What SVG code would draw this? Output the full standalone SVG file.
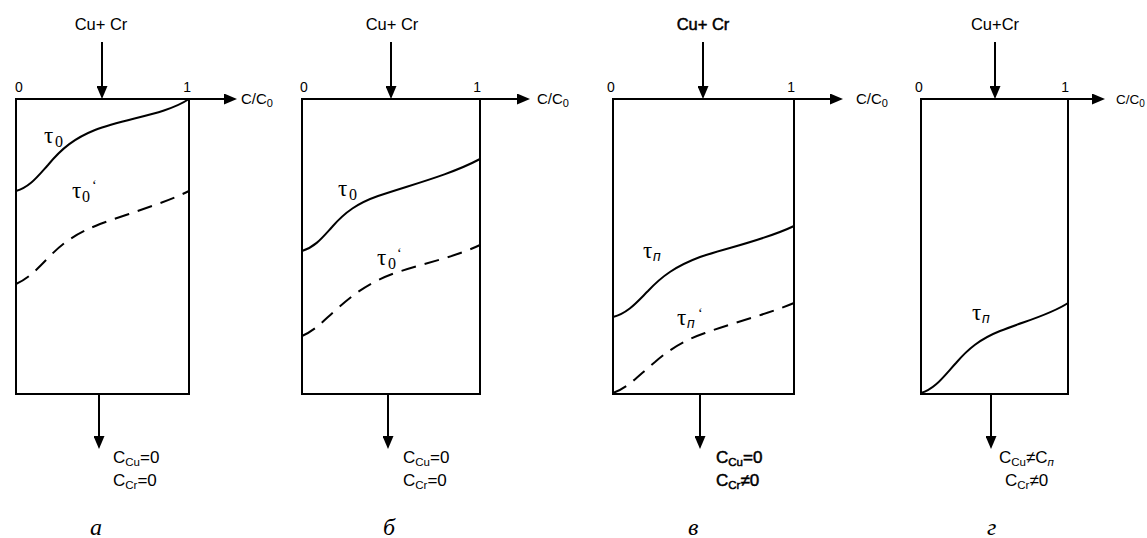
<svg xmlns="http://www.w3.org/2000/svg" width="1147" height="538" viewBox="0 0 1147 538">
<style>
.ln{stroke:#000;stroke-width:2;fill:none}
.ds{stroke:#000;stroke-width:2;fill:none;stroke-dasharray:15 9}
.ar{stroke:#000;stroke-width:2;fill:none;marker-end:url(#ah)}
.s{font-family:"Liberation Sans",Arial,sans-serif;fill:#000}
.t{font-family:"Liberation Serif","Times New Roman",serif;fill:#000}
.lab{font-family:"Liberation Serif","Times New Roman",serif;font-style:italic;font-size:24px;fill:#000}
.bd{stroke:#000;stroke-width:0.5}
</style>
<defs>
<marker id="ah" viewBox="0 0 13 11" refX="2" refY="5.5" markerWidth="13" markerHeight="11" markerUnits="userSpaceOnUse" orient="auto">
<path d="M0,0 L13,5.5 L0,11 z" fill="#000"/>
</marker>
</defs>

<g id="panel-a">
<rect x="16" y="99" width="173" height="295" class="ln"/>
<text x="101" y="30" class="s" font-size="16.5" text-anchor="middle">Cu+ Cr</text>
<text x="19" y="92" class="s" font-size="14" text-anchor="middle">0</text>
<text x="191" y="92" class="s" font-size="14" text-anchor="end">1</text>
<text x="241" y="104" class="s" font-size="15">C/C<tspan font-size="11" dy="3">0</tspan></text>
<path d="M16,191 C30,187 38,176 48,165 C62,148 75,138 95,130 C125,118 165,115 189,99" class="ln"/>
<path d="M16,284 C30,278 40,266 52,254 C66,240 80,232 100,224 C130,213 165,203 189,191" class="ds"/>
<text x="44" y="143" class="t" font-size="23">τ</text>
<text x="55" y="147" class="t" font-size="16">0</text>
<text x="72" y="198" class="t" font-size="23">τ</text>
<text x="82" y="202" class="t" font-size="16">0</text>
<text x="92" y="190" class="t" font-size="14">‘</text>
<text x="113" y="463" class="s" font-size="17">C<tspan font-size="11.5" dy="3">Cu</tspan><tspan dy="-3">=0</tspan></text>
<text x="113" y="486" class="s" font-size="17">C<tspan font-size="11.5" dy="3">Cr</tspan><tspan dy="-3">=0</tspan></text>
<text x="90" y="535" class="lab">а</text>
</g>

<g id="panel-b">
<rect x="302" y="99" width="178" height="295" class="ln"/>
<text x="392" y="30" class="s" font-size="16.5" text-anchor="middle">Cu+ Cr</text>
<text x="304" y="92" class="s" font-size="14" text-anchor="middle">0</text>
<text x="481" y="92" class="s" font-size="14" text-anchor="end">1</text>
<text x="537" y="104" class="s" font-size="15">C/C<tspan font-size="11" dy="3">0</tspan></text>
<path d="M302,251 C315,247 322,238 332,227 C345,212 358,203 378,196 C410,185 450,175 480,159" class="ln"/>
<path d="M302,336 C316,330 324,320 338,308 C355,293 370,282 395,273 C425,263 455,257 480,245" class="ds"/>
<text x="338" y="196" class="t" font-size="23">τ</text>
<text x="349" y="200" class="t" font-size="16">0</text>
<text x="377" y="265" class="t" font-size="23">τ</text>
<text x="388" y="269" class="t" font-size="16">0</text>
<text x="397" y="258" class="t" font-size="14">‘</text>
<text x="403" y="463" class="s" font-size="17">C<tspan font-size="11.5" dy="3">Cu</tspan><tspan dy="-3">=0</tspan></text>
<text x="403" y="486" class="s" font-size="17">C<tspan font-size="11.5" dy="3">Cr</tspan><tspan dy="-3">=0</tspan></text>
<text x="383" y="535" class="lab">б</text>
</g>

<g id="panel-v">
<rect x="613" y="99" width="181" height="295" class="ln"/>
<text x="703" y="30" class="s bd" font-size="16.5" text-anchor="middle">Cu+ Cr</text>
<text x="611" y="92" class="s" font-size="14" text-anchor="middle">0</text>
<text x="795" y="92" class="s" font-size="14" text-anchor="end">1</text>
<text x="856" y="104" class="s" font-size="15">C/C<tspan font-size="11" dy="3">0</tspan></text>
<path d="M613,317 C628,313 637,302 648,291 C662,276 676,266 700,257 C730,247 765,240 794,226" class="ln"/>
<path d="M613,393 C628,388 640,374 655,362 C670,349 685,340 705,333 C735,322 765,315 794,303" class="ds"/>
<text x="643" y="258" class="t" font-size="23">τ</text>
<text x="653" y="261" class="s" font-size="14" font-style="italic">п</text>
<text x="677" y="325" class="t" font-size="23">τ</text>
<text x="687" y="328" class="s" font-size="14" font-style="italic">п</text>
<text x="698" y="318" class="t" font-size="14">‘</text>
<text x="716" y="463" class="s bd" font-size="17">C<tspan font-size="11.5" dy="3">Cu</tspan><tspan dy="-3">=0</tspan></text>
<text x="716" y="486" class="s bd" font-size="17">C<tspan font-size="11.5" dy="3">Cr</tspan><tspan dy="-3">≠0</tspan></text>
<text x="688" y="535" class="lab">в</text>
</g>

<g id="panel-g">
<rect x="921" y="99" width="147" height="295" class="ln"/>
<text x="995" y="30" class="s" font-size="16.5" text-anchor="middle">Cu+Cr</text>
<text x="919" y="92" class="s" font-size="14" text-anchor="middle">0</text>
<text x="1069" y="92" class="s" font-size="14" text-anchor="end">1</text>
<text x="1116" y="104" class="s" font-size="13.5">C/C<tspan font-size="10" dy="3">0</tspan></text>
<path d="M921,393 C935,389 944,376 956,363 C968,349 980,339 1000,331 C1025,321 1050,315 1068,303" class="ln"/>
<text x="972" y="320" class="t" font-size="23">τ</text>
<text x="982" y="323" class="s" font-size="14" font-style="italic">п</text>
<text x="999" y="463" class="s" font-size="17">C<tspan font-size="11.5" dy="3">Cu</tspan><tspan dy="-3">≠C</tspan><tspan font-size="11.5" dy="3" font-style="italic">п</tspan></text>
<text x="1005" y="486" class="s" font-size="17">C<tspan font-size="11.5" dy="3">Cr</tspan><tspan dy="-3">≠0</tspan></text>
<text x="987" y="535" class="lab">г</text>
</g>

<g id="connectors">
<line x1="16" y1="99" x2="226" y2="99" class="ar"/>
<line x1="302" y1="99" x2="519" y2="99" class="ar"/>
<line x1="613" y1="99" x2="832" y2="99" class="ar"/>
<line x1="921" y1="99" x2="1094" y2="99" class="ar"/>
<line x1="102" y1="42" x2="102" y2="88" class="ar"/>
<line x1="391" y1="42" x2="391" y2="88" class="ar"/>
<line x1="703" y1="42" x2="703" y2="88" class="ar"/>
<line x1="995" y1="42" x2="995" y2="88" class="ar"/>
<line x1="99" y1="394" x2="99" y2="438" class="ar"/>
<line x1="388" y1="394" x2="388" y2="438" class="ar"/>
<line x1="700" y1="394" x2="700" y2="438" class="ar"/>
<line x1="991" y1="394" x2="991" y2="438" class="ar"/>
</g>
</svg>
